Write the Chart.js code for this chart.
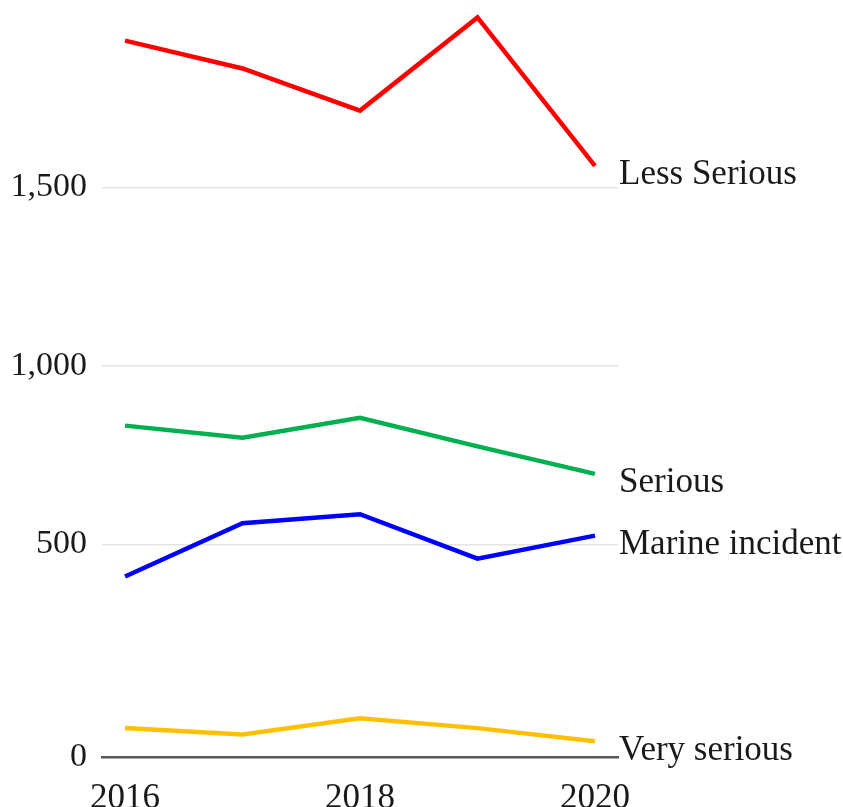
<!DOCTYPE html>
<html>
<head>
<meta charset="utf-8">
<script src="https://cdn.jsdelivr.net/npm/chart.js@4.4.1/dist/chart.umd.min.js"></script>
<style>
  html, body { margin: 0; padding: 0; background: #ffffff; }
  canvas { display: block; }
</style>
</head>
<body>
<canvas id="chart" width="843" height="807"></canvas>
<script>
// Marine casualties and incidents by severity, 2016-2020
const years = [2016, 2017, 2018, 2019, 2020];
const lessSerious = [1911, 1833, 1715, 1976, 1560];
const serious = [833, 799, 855, 775, 698];
const marineIncident = [425, 560, 585, 467, 525];
const verySerious = [69, 54, 92, 69, 38];

const seriesNames = ['Less Serious', 'Serious', 'Marine incident', 'Very serious'];
const seriesValues = [lessSerious, serious, marineIncident, verySerious];
const seriesColors = ['#ff0000', '#00b050', '#0000ff', '#ffc000'];

const yTicks = [0, 500, 1000, 1500];
const xTicks = [2016, 2018, 2020];

const FONT = '"Liberation Serif", "Times New Roman", serif';
const TEXT = '#1a1a1a';

// Linear axis whose lower band (below splitValue) gets its own share of the height
class SplitLinearScale extends Chart.LinearScale {
  _toDecimal(v) {
    const b = this.options.splitValue, f = this.options.splitFraction;
    if (v <= b) return f * (v - this.min) / (b - this.min);
    return f + (1 - f) * (v - b) / (this.max - b);
  }
  getPixelForValue(v) {
    if (v === null || v === undefined) return NaN;
    return this.getPixelForDecimal(this._toDecimal(v));
  }
  getValueForPixel(p) {
    const d = this.getDecimalForPixel(p);
    const b = this.options.splitValue, f = this.options.splitFraction;
    if (d <= f) return this.min + d / f * (b - this.min);
    return b + (d - f) / (1 - f) * (this.max - b);
  }
}
SplitLinearScale.id = 'splitLinear';
SplitLinearScale.defaults = Object.assign({}, Chart.LinearScale.defaults);
Chart.register(SplitLinearScale);

// Series names written just right of each line's last point
const endLabels = {
  id: 'endLabels',
  afterDatasetsDraw(chart) {
    const ctx = chart.ctx;
    ctx.save();
    ctx.font = '35px ' + FONT;
    ctx.fillStyle = TEXT;
    ctx.textAlign = 'left';
    ctx.textBaseline = 'alphabetic';
    chart.data.datasets.forEach((ds, i) => {
      const meta = chart.getDatasetMeta(i);
      const last = meta.data[meta.data.length - 1];
      ctx.fillText(ds.label, chart.chartArea.right + 1, last.y + 18.5);
    });
    ctx.restore();
  }
};

const datasets = seriesNames.map((name, i) => ({
  label: name,
  data: years.map((yr, j) => ({ x: yr, y: seriesValues[i][j] })),
  borderColor: seriesColors[i],
  backgroundColor: seriesColors[i],
  borderWidth: 4.5,
  borderJoinStyle: 'miter',
  borderCapStyle: 'butt',
  pointRadius: 0,
  tension: 0,
  fill: false
}));

new Chart(document.getElementById('chart'), {
  type: 'line',
  data: { datasets },
  options: {
    responsive: false,
    animation: false,
    layout: { padding: { left: 0, right: 225, top: 8.8, bottom: 0 } },
    plugins: { legend: { display: false }, tooltip: { enabled: false } },
    scales: {
      x: {
        type: 'linear',
        min: 2015.804,
        max: 2020.196,
        afterBuildTicks: (s) => { s.ticks = xTicks.map(v => ({ value: v })); },
        afterFit: (s) => { s.height = 49.5; s.paddingLeft = 0; s.paddingRight = 0; },
        grid: { display: false, drawTicks: false },
        border: { display: true, color: '#585858', width: 2.5 },
        ticks: {
          padding: 20,
          color: TEXT,
          font: { family: FONT, size: 35 },
          maxRotation: 0,
          callback: (v) => String(v)
        }
      },
      y: {
        type: 'splitLinear',
        min: 0,
        max: 2000,
        splitValue: 500,
        splitFraction: 0.2844,
        afterBuildTicks: (s) => { s.ticks = yTicks.map(v => ({ value: v })); },
        afterFit: (s) => { s.width = 102; s.paddingTop = 0; s.paddingBottom = 0; },
        grid: {
          drawTicks: false,
          lineWidth: 1.5,
          color: (c) => (c.tick && c.tick.value === 0) ? 'rgba(0,0,0,0)' : '#e4e4e4'
        },
        border: { display: false },
        ticks: {
          padding: 15,
          color: TEXT,
          font: { family: FONT, size: 34 },
          callback: (v) => Number(v).toLocaleString('en-US')
        }
      }
    }
  },
  plugins: [endLabels]
});
</script>
</body>
</html>
